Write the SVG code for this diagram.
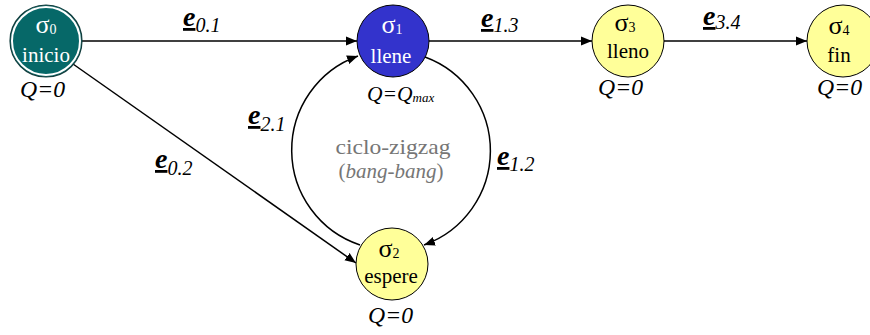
<svg xmlns="http://www.w3.org/2000/svg" width="870" height="335" viewBox="0 0 870 335" font-family="'Liberation Serif', 'DejaVu Serif', serif">
<style>
text, tspan{font-family:'Liberation Serif','DejaVu Serif',serif}
.nt{font-size:21px;text-anchor:middle}
.sg{font-size:26px;text-anchor:middle}
.w{fill:#ffffff}
.k{fill:#000000}
.sub{font-size:14px}
.q{font-size:23px;font-style:italic;text-anchor:middle;fill:#000}
.el{font-size:20px;font-style:italic;fill:#000}
.ee{font-size:28px;font-weight:bold;text-decoration:underline}
.edge{fill:none;stroke:#000;stroke-width:1.5}
.y{fill:#FFFF99;stroke:#000;stroke-width:1}
.cy{font-size:21px;fill:#767676;text-anchor:middle}
</style>
<defs>
<marker id="ah" markerWidth="12" markerHeight="10" refX="11" refY="5" orient="auto" markerUnits="userSpaceOnUse">
<path d="M0,0.5 L11,5 L0,9.5 z" fill="#000"/>
</marker>
</defs>
<rect width="870" height="335" fill="#ffffff"/>
<g id="connectors">
<g id="e01">
<line class="edge" x1="82" y1="41" x2="357" y2="41" marker-end="url(#ah)"/>
<text class="el" x="183" y="26"><tspan class="ee">e</tspan><tspan dy="6">0.1</tspan></text>
</g>
<g id="e13">
<line class="edge" x1="429" y1="41" x2="592" y2="41" marker-end="url(#ah)"/>
<text class="el" x="481" y="27"><tspan class="ee">e</tspan><tspan dy="5">1.3</tspan></text>
</g>
<g id="e34">
<line class="edge" x1="664" y1="41" x2="807" y2="41" marker-end="url(#ah)"/>
<text class="el" x="703" y="25"><tspan class="ee">e</tspan><tspan dy="4">3.4</tspan></text>
</g>
<g id="e02">
<line class="edge" x1="73" y1="64" x2="356" y2="263" marker-end="url(#ah)"/>
<text class="el" x="155" y="168"><tspan class="ee">e</tspan><tspan dy="7">0.2</tspan></text>
</g>
<g id="e21">
<path class="edge" d="M360,245 A100,100 0 0 1 358,56" marker-end="url(#ah)"/>
<text class="el" x="248" y="124"><tspan class="ee">e</tspan><tspan dy="7">2.1</tspan></text>
</g>
<g id="e12">
<path class="edge" d="M425,57 A100,100 0 0 1 424,245" marker-end="url(#ah)"/>
<text class="el" x="497" y="165"><tspan class="ee">e</tspan><tspan dy="6">1.2</tspan></text>
</g>
<g id="cycle-label">
<text class="cy" x="393" y="154" textLength="115" lengthAdjust="spacingAndGlyphs">ciclo-zigzag</text>
<text class="cy" x="391" y="178" textLength="105" lengthAdjust="spacingAndGlyphs">(<tspan font-style="italic">bang-bang</tspan>)</text>
</g>
</g>
<g id="s0">
<circle cx="46" cy="41" r="36" fill="#066868" stroke="#123c3c" stroke-width="1.2"/>
<circle cx="46" cy="41" r="34" fill="none" stroke="#ffffff" stroke-width="2"/>
<text class="sg w" x="46" y="33">σ<tspan class="sub" dy="1">0</tspan></text>
<text class="nt w" x="46" y="62">inicio</text>
<text class="q" x="42.5" y="97" textLength="45" lengthAdjust="spacingAndGlyphs">Q=0</text>
</g>
<g id="s1">
<circle cx="393" cy="41" r="36" fill="#3333CC" stroke="#000" stroke-width="1"/>
<text class="sg w" x="392" y="33">σ<tspan class="sub" dy="1">1</tspan></text>
<text class="nt w" x="391" y="63">llene</text>
<text x="367" y="101" font-size="21.5" font-style="italic" fill="#000">Q=Q<tspan font-size="13" dy="1">max</tspan></text>
</g>
<g id="s2">
<circle cx="392" cy="264" r="36" class="y"/>
<text class="sg k" x="389" y="257">σ<tspan class="sub" dy="1">2</tspan></text>
<text class="nt k" x="391" y="283">espere</text>
<text class="q" x="390.5" y="323" textLength="45" lengthAdjust="spacingAndGlyphs">Q=0</text>
</g>
<g id="s3">
<circle cx="628" cy="41" r="36" class="y"/>
<text class="sg k" x="625" y="31">σ<tspan class="sub" dy="1">3</tspan></text>
<text class="nt k" x="628" y="58">lleno</text>
<text class="q" x="620.5" y="95" textLength="45" lengthAdjust="spacingAndGlyphs">Q=0</text>
</g>
<g id="s4">
<circle cx="843" cy="41" r="36" class="y"/>
<text class="sg k" x="839" y="34">σ<tspan class="sub" dy="1">4</tspan></text>
<text class="nt k" x="839" y="62">fin</text>
<text class="q" x="839.5" y="95" textLength="45" lengthAdjust="spacingAndGlyphs">Q=0</text>
</g>
</svg>
